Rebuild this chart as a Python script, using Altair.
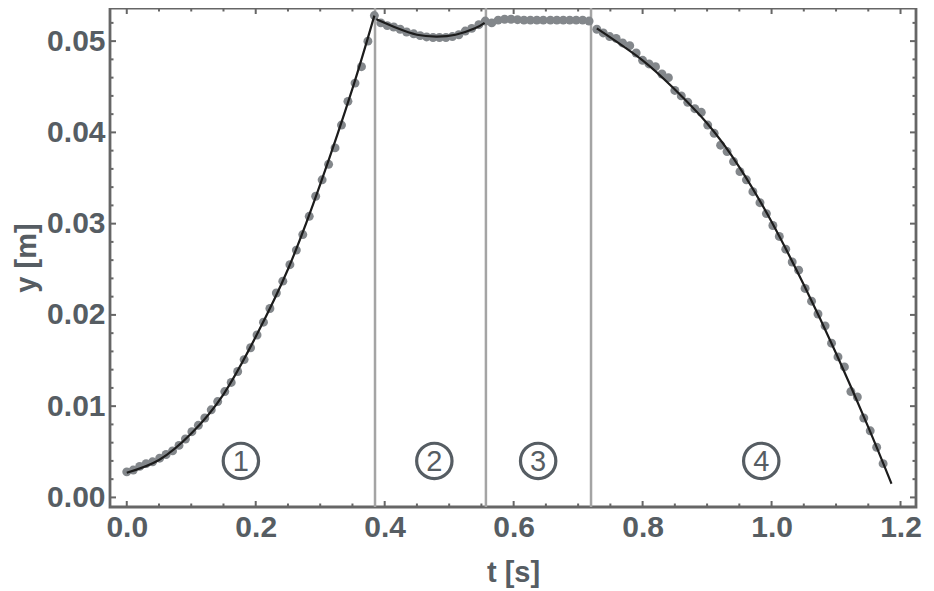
import altair as alt
import pandas as pd

# ---- measured points (t in s, y in m) ----
t_seg1 = [0.000, 0.010, 0.020, 0.030, 0.040, 0.051, 0.061, 0.071, 0.081, 0.091,
          0.101, 0.111, 0.121, 0.131, 0.141, 0.152, 0.162, 0.172, 0.182, 0.192,
          0.202, 0.212, 0.222, 0.232, 0.242, 0.253, 0.263, 0.273, 0.283, 0.293,
          0.303, 0.313, 0.323, 0.333, 0.343, 0.354, 0.364, 0.374, 0.384]
y_seg1 = [0.0028, 0.0030, 0.0034, 0.0037, 0.0039, 0.0043, 0.0047, 0.0051, 0.0057, 0.0064,
          0.0072, 0.0079, 0.0087, 0.0096, 0.0105, 0.0116, 0.0126, 0.0138, 0.0151, 0.0164,
          0.0178, 0.0192, 0.0207, 0.0224, 0.0237, 0.0255, 0.0271, 0.0288, 0.0308, 0.0330,
          0.0348, 0.0365, 0.0383, 0.0408, 0.0434, 0.0454, 0.0472, 0.0500, 0.0528]

t_seg2 = [0.394, 0.404, 0.414, 0.424, 0.434, 0.445, 0.455, 0.465, 0.475, 0.485,
          0.495, 0.505, 0.515, 0.525, 0.535, 0.546, 0.556]
y_seg2 = [0.0520, 0.0517, 0.05155, 0.0513, 0.0510, 0.0508, 0.0506, 0.05046, 0.0504, 0.0504,
          0.0504, 0.0505, 0.0507, 0.0511, 0.0514, 0.0518, 0.0522]

t_seg3 = [0.566, 0.576, 0.586, 0.596, 0.606, 0.616, 0.626, 0.636, 0.646, 0.657,
          0.667, 0.677, 0.687, 0.697, 0.707, 0.717]
y_seg3 = [0.0520, 0.0523, 0.0524, 0.0524, 0.05235, 0.0523, 0.0523, 0.0523, 0.0523, 0.0523,
          0.0523, 0.0523, 0.0523, 0.0523, 0.0523, 0.0522]

t_seg4 = [0.729, 0.739, 0.749, 0.759, 0.769, 0.780, 0.790, 0.800, 0.810, 0.820,
          0.830, 0.840, 0.850, 0.860, 0.870, 0.881, 0.891, 0.901, 0.911, 0.921,
          0.931, 0.941, 0.951, 0.961, 0.971, 0.982, 0.992, 1.002, 1.012, 1.022,
          1.032, 1.042, 1.052, 1.062, 1.072, 1.083, 1.093, 1.103, 1.113, 1.123,
          1.133, 1.143, 1.153, 1.163, 1.173]
y_seg4 = [0.0513, 0.0509, 0.0505, 0.0503, 0.0498, 0.0495, 0.0487, 0.0479, 0.0475, 0.0472,
          0.0464, 0.0460, 0.0446, 0.0440, 0.0433, 0.0426, 0.0422, 0.0408, 0.0399, 0.0386,
          0.0379, 0.0368, 0.0357, 0.0348, 0.0335, 0.0323, 0.0311, 0.0298, 0.0286, 0.0272,
          0.0258, 0.0249, 0.0229, 0.0215, 0.0201, 0.0188, 0.0169, 0.0154, 0.0143, 0.0116,
          0.0110, 0.0087, 0.0073, 0.0055, 0.0037]

# ---- fitted curves (knots) ----
fit1_t = [0.0, 0.05, 0.10, 0.15, 0.20, 0.25, 0.30, 0.35, 0.384]
fit1_y = [0.0027, 0.0041, 0.0070, 0.0113, 0.0176, 0.0250, 0.0343, 0.0448, 0.0528]
fit2_t = [0.387, 0.42, 0.45, 0.48, 0.51, 0.54, 0.555]
fit2_y = [0.0524, 0.0514, 0.0507, 0.0505, 0.0507, 0.0514, 0.0520]
fit4_t = [0.729, 0.80, 0.85, 0.90, 0.95, 1.00, 1.05, 1.10, 1.15, 1.186]
fit4_y = [0.0514, 0.0479, 0.0447, 0.0410, 0.0362, 0.0302, 0.0233, 0.0158, 0.0077, 0.0015]

# ---- phase boundaries and labels ----
boundaries = [0.385, 0.557, 0.720]
phase_labels = ["1", "2", "3", "4"]
phase_t = [0.177, 0.477, 0.638, 0.984]
phase_y = [0.0040, 0.0040, 0.0040, 0.0040]

# ---- ticks ----
x_major = [0.0, 0.2, 0.4, 0.6, 0.8, 1.0, 1.2]
x_minor = [0.05, 0.1, 0.15, 0.25, 0.3, 0.35, 0.45, 0.5, 0.55, 0.65, 0.7, 0.75,
           0.85, 0.9, 0.95, 1.05, 1.1, 1.15]
y_major = [0.00, 0.01, 0.02, 0.03, 0.04, 0.05]
y_minor = [0.002, 0.004, 0.006, 0.008, 0.012, 0.014, 0.016, 0.018, 0.022, 0.024,
           0.026, 0.028, 0.032, 0.034, 0.036, 0.038, 0.042, 0.044, 0.046, 0.048, 0.052]

W, H = 806, 499
TXT = "#565d63"
FRAME = "#666666"
FONT = "Liberation Sans"

xs = alt.Scale(domain=[-0.026, 1.224], nice=False, zero=False)
ys = alt.Scale(domain=[-0.00105, 0.05363], nice=False, zero=False)
x_axis = alt.Axis(values=x_major, format=".1f", title="t [s]", domain=False, ticks=False,
                  tickSize=0, grid=False, labelPadding=5, titlePadding=16)
y_axis = alt.Axis(values=y_major, format=".2f", title="y [m]", domain=False, ticks=False,
                  tickSize=0, grid=False, labelPadding=5, titlePadding=5)


def X(field="t"):
    return alt.X(f"{field}:Q", scale=xs, axis=x_axis, title="t [s]")


def Y(field="y"):
    return alt.Y(f"{field}:Q", scale=ys, axis=y_axis, title="y [m]")


pts = pd.DataFrame({
    "t": t_seg1 + t_seg2 + t_seg3 + t_seg4,
    "y": y_seg1 + y_seg2 + y_seg3 + y_seg4,
})
fits = pd.DataFrame({
    "t": fit1_t + fit2_t + fit4_t,
    "y": fit1_y + fit2_y + fit4_y,
    "seg": ["a"] * len(fit1_t) + ["b"] * len(fit2_t) + ["d"] * len(fit4_t),
})
bnd = pd.DataFrame({"t": boundaries})
phases = pd.DataFrame({"t": phase_t, "y": phase_y, "lab": phase_labels})
xmaj = pd.DataFrame({"t": x_major})
xmin = pd.DataFrame({"t": x_minor})
ymaj = pd.DataFrame({"y": y_major})
ymin = pd.DataFrame({"y": y_minor})

vlines = alt.Chart(bnd).mark_rule(color="#a4a4a4", strokeWidth=2.5).encode(x=X())
points = alt.Chart(pts).mark_circle(size=80, color="#83878b", opacity=1).encode(x=X(), y=Y())
curves = alt.Chart(fits).mark_line(color="#1c1c1c", strokeWidth=2.2, interpolate="natural").encode(
    x=X(), y=Y(), detail="seg:N")
circles = alt.Chart(phases).mark_point(shape="circle", filled=False, size=1250, strokeWidth=3.2,
                                       color=TXT, opacity=1).encode(x=X(), y=Y())
digits = alt.Chart(phases).mark_text(font=FONT, fontSize=29, color=TXT, baseline="middle",
                                     dy=1).encode(x=X(), y=Y(), text="lab:N")


def xticks(df, length):
    bottom = alt.Chart(df).mark_rule(color=FRAME, strokeWidth=2).encode(
        x=X(), y=alt.value(H), y2=alt.value(H - length))
    top = alt.Chart(df).mark_rule(color=FRAME, strokeWidth=2).encode(
        x=X(), y=alt.value(0), y2=alt.value(length))
    return [bottom, top]


def yticks(df, length):
    left = alt.Chart(df).mark_rule(color=FRAME, strokeWidth=2).encode(
        y=Y(), x=alt.value(0), x2=alt.value(length))
    right = alt.Chart(df).mark_rule(color=FRAME, strokeWidth=2).encode(
        y=Y(), x=alt.value(W), x2=alt.value(W - length))
    return [left, right]


layers = [vlines, points, curves, circles, digits] + xticks(xmaj, 6) + xticks(xmin, 3.5) \
    + yticks(ymaj, 6) + yticks(ymin, 3.5)

chart = alt.layer(*layers).properties(
    width=W, height=H,
    autosize=alt.AutoSizeParams(type="none"),
    padding={"left": 102, "top": 0, "right": 10, "bottom": 84},
).configure_view(
    stroke=FRAME, strokeWidth=2.8
).configure_axis(
    labelFont=FONT, labelFontWeight="bold", labelFontSize=30, labelColor=TXT,
    titleFont=FONT, titleFontWeight="bold", titleFontSize=29, titleColor=TXT,
)

chart.save("out.html", embed_options={"renderer": "svg", "actions": False})
